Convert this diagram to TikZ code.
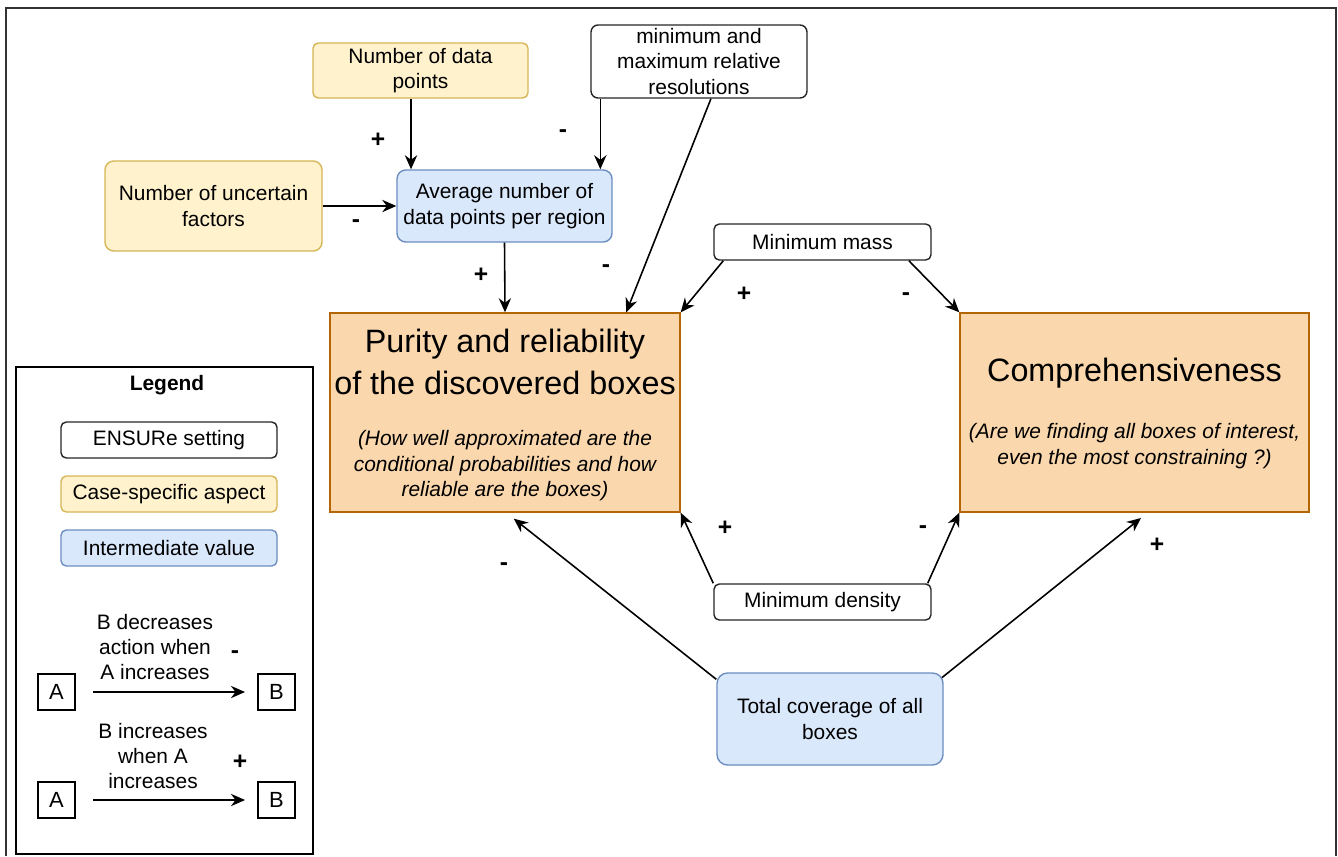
\documentclass[tikz,border=0pt]{standalone}
\usepackage{fontspec}
\setmainfont{Liberation Sans}
\usetikzlibrary{arrows.meta}

\definecolor{yellowfill}{HTML}{FFF2CC}
\definecolor{yellowdraw}{HTML}{D6B656}
\definecolor{bluefill}{HTML}{DAE8FC}
\definecolor{bluedraw}{HTML}{6C8EBF}
\definecolor{orangefill}{HTML}{FAD7AC}
\definecolor{orangedraw}{HTML}{B46504}

\begin{document}
\begin{tikzpicture}[x=0.02cm, y=-0.02cm,
    boxsize/.style 2 args={minimum width=#1*0.02cm, minimum height=#2*0.02cm},
    setting/.style={draw=black!85, fill=white, rounded corners=3pt, line width=0.8pt,
        align=center, inner sep=0pt, font=\fontsize{11.9}{14.5}\selectfont},
    aspect/.style={setting, draw=yellowdraw, fill=yellowfill},
    interm/.style={setting, draw=bluedraw, fill=bluefill},
    goal/.style={draw=orangedraw, fill=orangefill, line width=0.8pt, inner sep=0pt},
    goaltitle/.style={align=center, font=\fontsize{18.4}{24.4}\selectfont},
    goalnote/.style={align=center, font=\fontsize{11.9}{14.5}\selectfont\itshape},
    sign/.style={font=\fontsize{14}{14}\selectfont\bfseries},
    link/.style={-{Stealth[length=8pt,width=7pt]}, line width=0.9pt},
    letter/.style={draw, line width=0.8pt, boxsize={37}{36}, font=\fontsize{12.5}{14}\selectfont},
    legendtext/.style={align=center, font=\fontsize{11.9}{14.5}\selectfont}]

    \useasboundingbox (0,0) rectangle (1338,856);
    \draw[line width=1.6pt, black!80] (6,856) -- (6,8) -- (1336,8) -- (1336,856);

    % Inputs
    \node[aspect, boxsize={215}{55}] (ndp) at (420.5,70.5) {Number of data\\points};
    \node[setting, boxsize={216}{73}, rounded corners=4pt] (minmax) at (699,61.5) {minimum and\\maximum relative\\resolutions};
    \node[aspect, boxsize={217}{90}, rounded corners=5pt] (unc) at (213.5,206) {Number of uncertain\\factors};
    \node[interm, boxsize={215}{72}, rounded corners=5pt] (avg) at (504.5,206) {Average number of\\data points per region};
    \node[setting, boxsize={217}{36}] (mass) at (822.5,242) {Minimum mass};
    \node[setting, boxsize={217}{36}] (density) at (822.5,602) {Minimum density};
    \node[interm, boxsize={226}{92}, rounded corners=6pt] (total) at (830,719) {Total coverage of all\\boxes};

    % Goals
    \node[goal, boxsize={350}{199}] (purity) at (505,412.5) {};
    \node[goaltitle] (puritytitle) at (505,362) {Purity and reliability\\of the discovered boxes};
    \node[goalnote] (puritynote) at (505,466) {(How well approximated are the\\conditional probabilities and how\\reliable are the boxes)};
    \node[goal, boxsize={349}{199}] (comp) at (1134.5,412.5) {};
    \node[goaltitle] (comptitle) at (1134.5,373) {Comprehensiveness};
    \node[goalnote] (compnote) at (1134.5,446) {(Are we finding all boxes of interest,\\even the most constraining ?)};

    % Links
    \coordinate (ndpout) at ([xshift=-5.4pt]ndp.south);
    \coordinate (minmaxout) at ([xshift=5.7pt]minmax.south west);
    \draw[link] (ndpout) -- (ndpout |- avg.north);
    \draw[link] (minmaxout) -- (minmaxout |- avg.north);
    \draw[link] (unc.east) -- (avg.west);
    \draw[link] (avg.south) -- (purity.north);
    \draw[link] ([xshift=6.8pt]minmax.south) -- ([xshift=-31pt]purity.north east);
    \draw[link] ([xshift=5.7pt]mass.south west) -- (purity.north east);
    \draw[link] ([xshift=-13pt]mass.south east) -- (comp.north west);
    \draw[link] (density.north west) -- (purity.south east);
    \draw[link] ([xshift=-2.3pt]density.north east) -- (comp.south west);
    \draw[link] ([yshift=-4pt]total.north west) -- ([xshift=5pt,yshift=-3.4pt]purity.south);
    \draw[link] ([xshift=-1pt,yshift=-3pt]total.north east) -- ([xshift=3.7pt,yshift=-3pt]comp.south);

    % Signs
    \node[sign] (s1) at (378,140) {+};
    \node[sign] (s2) at (563,134) {-};
    \node[sign] (s3) at (356,224) {-};
    \node[sign] (s4) at (481,275) {+};
    \node[sign] (s5) at (606,269) {-};
    \node[sign] (s6) at (744,294) {+};
    \node[sign] (s7) at (906,297) {-};
    \node[sign] (s8) at (725,528) {+};
    \node[sign] (s9) at (923,530) {-};
    \node[sign] (s10) at (504,567) {-};
    \node[sign] (s11) at (1157,545) {+};

    % Legend
    \node[draw, line width=1pt, boxsize={297}{487}] (legend) at (164.5,610.5) {};
    \node[font=\fontsize{11.9}{14}\selectfont\bfseries] (legendtitle) at (167,385) {Legend};
    \node[setting, boxsize={216}{36}] (ensure) at (169,440) {ENSURe setting};
    \node[aspect, boxsize={216}{36}] (casesp) at (169,494) {Case-specific aspect};
    \node[interm, boxsize={216}{36}] (intval) at (169,548) {Intermediate value};

    \node[letter] (a1) at (56.5,692) {A};
    \node[letter] (b1) at (276.5,692) {B};
    \node[letter] (a2) at (56.5,800) {A};
    \node[letter] (b2) at (276.5,800) {B};
    \draw[link, shorten <=10pt, shorten >=7pt] (a1) -- (b1);
    \draw[link, shorten <=10pt, shorten >=7pt] (a2) -- (b2);
    \node[legendtext] (dectext) at (155,647) {B decreases\\action when\\A increases};
    \node[legendtext] (inctext) at (153,756) {B increases\\when A\\increases};
    \node[sign] (s12) at (235,655) {-};
    \node[sign] (s13) at (240,762) {+};
\end{tikzpicture}
\end{document}
